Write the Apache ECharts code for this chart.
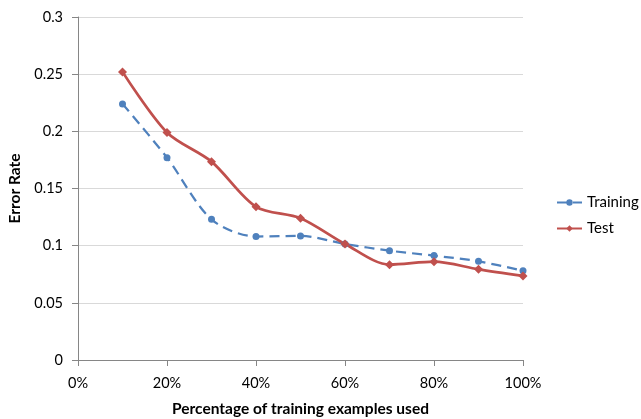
<!DOCTYPE html>
<html>
<head>
<meta charset="utf-8">
<script src="https://cdn.jsdelivr.net/npm/echarts@6/dist/echarts.min.js"></script>
<style>html,body{margin:0;padding:0;background:#fff;}#c{width:641px;height:419px;}</style>
</head>
<body>
<div id="c"></div>
<script>
var xValues = [0.1, 0.2, 0.3, 0.4, 0.5, 0.6, 0.7, 0.8, 0.9, 1.0];
var trainingValues = [0.224, 0.177, 0.123, 0.108, 0.1085, 0.1015, 0.0956, 0.0913, 0.0863, 0.0781];
var testValues = [0.252, 0.199, 0.1735, 0.134, 0.124, 0.1015, 0.0834, 0.086, 0.0793, 0.0735];
var seriesNames = ['Training', 'Test'];

function pairs(vals) { return xValues.map(function (x, i) { return [x, vals[i]]; }); }
var FONT = 'Lato, "Open Sans", sans-serif';
var chart = echarts.init(document.getElementById('c'), null, {renderer: 'canvas'});
chart.setOption({
  animation: false,
  backgroundColor: '#ffffff',
  textStyle: {fontFamily: FONT},
  grid: {left: 78, right: 118, top: 17, bottom: 59, containLabel: false, outerBoundsMode: 'none'},
  legend: {
    orient: 'vertical', left: 556, top: 194, padding: 0, itemGap: 9, itemWidth: 25, itemHeight: 8,
    textStyle: {fontFamily: FONT, fontSize: 15, lineHeight: 17, color: '#000'},
    data: seriesNames
  },
  xAxis: {
    type: 'value', min: 0, max: 1, interval: 0.2,
    name: 'Percentage of training examples used', nameLocation: 'middle', nameGap: 41,
    nameTextStyle: {fontFamily: FONT, fontSize: 15.5, fontWeight: 'bold', color: '#000'},
    axisLine: {show: true, lineStyle: {color: '#868686'}},
    axisTick: {show: true, length: 6, lineStyle: {color: '#868686'}},
    axisLabel: {fontSize: 14.5, color: '#000', margin: 16, formatter: function (v) { return Math.round(v * 100) + '%'; }},
    splitLine: {show: false}
  },
  yAxis: {
    type: 'value', min: 0, max: 0.3, interval: 0.05,
    name: 'Error Rate', nameLocation: 'middle', nameGap: 51, nameRotate: 90,
    nameTextStyle: {fontFamily: FONT, fontSize: 15.5, fontWeight: 'bold', color: '#000'},
    axisLine: {show: true, lineStyle: {color: '#868686'}},
    axisTick: {show: true, length: 6, lineStyle: {color: '#868686'}},
    axisLabel: {fontSize: 14.5, color: '#000', margin: 15},
    splitLine: {show: true, lineStyle: {color: '#d9d9d9', width: 1}}
  },
  series: [
    {
      name: seriesNames[0], type: 'line', smooth: 0.3, data: pairs(trainingValues),
      symbol: 'circle', symbolSize: 7,
      itemStyle: {color: '#4F81BD'},
      lineStyle: {color: '#4F81BD', width: 2.25, type: [10, 6]}
    },
    {
      name: seriesNames[1], type: 'line', smooth: 0.3, data: pairs(testValues),
      symbol: 'diamond', symbolSize: 9,
      itemStyle: {color: '#C0504D'},
      lineStyle: {color: '#C0504D', width: 2.75}
    }
  ]
});
</script>
</body>
</html>
